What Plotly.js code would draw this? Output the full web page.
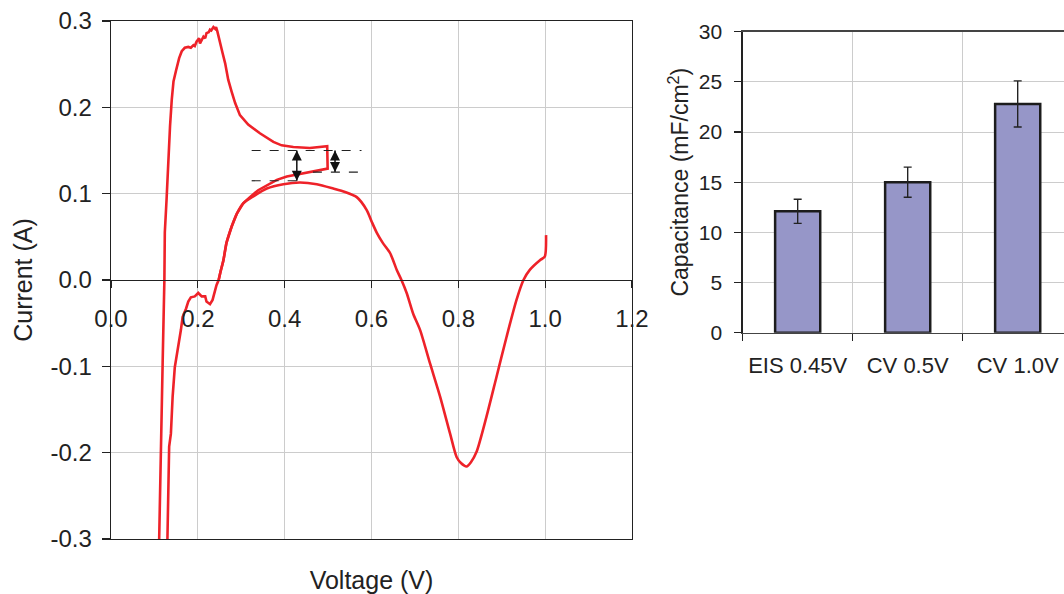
<!DOCTYPE html>
<html>
<head>
<meta charset="utf-8">
<script src="https://cdn.plot.ly/plotly-3.0.1.min.js"></script>
<style>html,body{margin:0;padding:0;background:#fff;}#chart{width:1064px;height:594px;}</style>
</head>
<body>
<div id="chart"></div>
<script>
// ---- CV scan reversed at 0.5 V (voltage V, current A)
const cv05Voltage = [0.111,0.115,0.119,0.123,0.124,0.128,0.132,0.136,0.140,0.144,0.150,0.157,0.163,0.170,0.178,0.184,0.190,0.193,0.197,0.203,0.205,0.213,0.217,0.220,0.225,0.228,0.231,0.236,0.240,0.242,0.245,0.251,0.257,0.263,0.270,0.278,0.286,0.297,0.316,0.343,0.374,0.393,0.420,0.458,0.498,0.499,0.470,0.447,0.428,0.405,0.382,0.359,0.339,0.320,0.305,0.290,0.278,0.266,0.259,0.252,0.248,0.243,0.240,0.237,0.234,0.228,0.220,0.217,0.209,0.201,0.193,0.184,0.178,0.173,0.165,0.161,0.155,0.151,0.147,0.142,0.138,0.134,0.132,0.130];
const cv05Current = [-0.300,-0.177,-0.096,0.000,0.055,0.093,0.139,0.178,0.209,0.230,0.243,0.257,0.265,0.269,0.270,0.269,0.272,0.271,0.276,0.280,0.274,0.282,0.280,0.286,0.287,0.290,0.289,0.293,0.291,0.293,0.288,0.274,0.263,0.251,0.232,0.218,0.205,0.191,0.180,0.170,0.160,0.156,0.154,0.153,0.155,0.129,0.126,0.124,0.122,0.120,0.116,0.110,0.104,0.096,0.089,0.077,0.062,0.043,0.023,0.009,0.000,-0.006,-0.012,-0.015,-0.023,-0.028,-0.025,-0.019,-0.019,-0.015,-0.019,-0.020,-0.025,-0.033,-0.043,-0.058,-0.077,-0.093,-0.101,-0.135,-0.178,-0.193,-0.240,-0.300];
// ---- CV scan to 1.0 V
const cv10Voltage = [0.248,0.252,0.259,0.266,0.278,0.290,0.305,0.328,0.359,0.397,0.435,0.474,0.512,0.539,0.566,0.589,0.601,0.612,0.626,0.643,0.658,0.669,0.681,0.696,0.712,0.735,0.758,0.781,0.796,0.806,0.819,0.829,0.842,0.865,0.888,0.911,0.934,0.950,0.965,0.988,0.999,1.002];
const cv10Current = [0.000,0.009,0.023,0.043,0.062,0.077,0.089,0.097,0.106,0.111,0.113,0.111,0.106,0.102,0.096,0.081,0.067,0.055,0.043,0.031,0.012,0.000,-0.015,-0.039,-0.058,-0.097,-0.135,-0.178,-0.205,-0.212,-0.216,-0.211,-0.199,-0.158,-0.112,-0.066,-0.023,0.000,0.012,0.023,0.027,0.052];

// ---- dashed guide levels and double arrows (data coords)
const guideY  = [0.150, 0.125, 0.115];
const guideX0 = [0.324, 0.465, 0.324];
const guideX1 = [0.577, 0.577, 0.430];
const arrowX    = [0.428, 0.516];
const arrowYTop = [0.150, 0.150];
const arrowYBot = [0.115, 0.125];

// ---- tick labels
const voltTickVals = [0,0.2,0.4,0.6,0.8,1.0,1.2];
const voltTickText = ['0.0','0.2','0.4','0.6','0.8','1.0','1.2'];
const currTickVals = [-0.3,-0.2,-0.1,0,0.1,0.2,0.3];
const currTickText = ['-0.3','-0.2','-0.1','0.0','0.1','0.2','0.3'];

// ---- capacitance bars
const capCategories = ['EIS 0.45V','CV 0.5V','CV 1.0V'];
const capValues = [12.1, 15.0, 22.8];
const capErrors = [1.2, 1.5, 2.3];

const FONT = 'Liberation Sans, Arial, Helvetica, sans-serif';
const RED = '#ee2229';
const GRID = '#cccccc';
const AX = '#222222';

const traces = [
  {x: cv05Voltage, y: cv05Current, type:'scatter', mode:'lines', xaxis:'x', yaxis:'y',
   line:{color:RED, width:2.6}, hoverinfo:'skip', showlegend:false},
  {x: cv10Voltage, y: cv10Current, type:'scatter', mode:'lines', xaxis:'x', yaxis:'y',
   line:{color:RED, width:2.6, shape:'spline', smoothing:0.7}, hoverinfo:'skip', showlegend:false},
  {x: [null], y: [null], type:'scatter', mode:'lines', xaxis:'x3', yaxis:'y', showlegend:false, hoverinfo:'skip'},
  {x: capCategories, y: capValues, type:'bar', xaxis:'x2', yaxis:'y2', width:0.41,
   marker:{color:'#9696c8', line:{color:'#1c1c1c', width:2.5}},
   error_y:{type:'data', array:capErrors, visible:true, color:'#222', thickness:1.4, width:4},
   showlegend:false, hoverinfo:'skip'}
];

// double-headed arrows: shaft + arrow-head markers at both ends
arrowX.forEach((xv,i)=>{
  traces.push({x:[xv,xv], y:[arrowYTop[i],arrowYBot[i]], type:'scatter', mode:'lines+markers', xaxis:'x', yaxis:'y',
    line:{color:'#111', width:1.5},
    marker:{symbol:['arrow-up','arrow-down'], size:10, color:'#111', line:{width:0}},
    hoverinfo:'skip', showlegend:false});
});

const shapes = guideY.map((yv,i)=>({type:'line', xref:'x', yref:'y', x0:guideX0[i], x1:guideX1[i], y0:yv, y1:yv,
  line:{color:'#222', width:1.2, dash:'dash'}}));

const tickFontL = {family:FONT, size:24, color:'#222'};
const tickFontR = {family:FONT, size:21, color:'#222'};

const layout = {
  width:1064, height:594, autosize:false,
  margin:{l:0, r:0, t:0, b:0, pad:0},
  paper_bgcolor:'#fff', plot_bgcolor:'rgba(0,0,0,0)',
  font:{family:FONT, color:'#222'},
  showlegend:false,
  xaxis:{domain:[0.1043,0.594], range:[0,1.2], anchor:'y', tickvals:voltTickVals, showticklabels:false, ticks:'',
    showgrid:true, gridcolor:GRID, gridwidth:1, zeroline:false, showline:true, linecolor:AX, linewidth:1.3, mirror:true,
    title:{text:'Voltage (V)', font:{family:FONT, size:25, color:'#222'}, standoff:32}},
  xaxis3:{overlaying:'x', anchor:'free', position:0.5286, range:[0,1.2], tickvals:voltTickVals, ticktext:voltTickText,
    ticks:'outside', ticklen:7, tickwidth:1.2, tickcolor:AX, showgrid:false, zeroline:false, showline:true, linecolor:AX, linewidth:1.3,
    tickfont:tickFontL, ticklabelstandoff:10},
  yaxis:{domain:[0.0926,0.9646], range:[-0.3,0.3], anchor:'x', tickvals:currTickVals, ticktext:currTickText,
    ticks:'outside', ticklen:8, tickwidth:1.2, tickcolor:AX, showgrid:true, gridcolor:GRID, zeroline:false,
    showline:true, linecolor:AX, linewidth:1.3, mirror:true, tickfont:tickFontL, ticklabelstandoff:5,
    title:{text:'Current (A)', font:{family:FONT, size:25, color:'#222'}, standoff:10}},
  xaxis2:{domain:[0.698,1.0], anchor:'y2', type:'category', range:[-0.5,2.421], tickson:'boundaries',
    ticks:'outside', ticklen:7, tickwidth:1.2, tickcolor:AX, showgrid:true, gridcolor:GRID,
    showline:true, linecolor:'#444', linewidth:1.5, mirror:true, tickfont:{family:FONT, size:22, color:'#222'}, ticklabelstandoff:12},
  yaxis2:{domain:[0.4399,0.9466], anchor:'x2', range:[0,30], dtick:5, tick0:0,
    ticks:'outside', ticklen:7, tickwidth:1.2, tickcolor:AX, showgrid:true, gridcolor:GRID, zeroline:false,
    showline:true, linecolor:AX, linewidth:1.3, tickfont:tickFontR, ticklabelstandoff:8,
    title:{text:'Capacitance (mF/cm<sup>2</sup>)', font:{family:FONT, size:23, color:'#222'}, standoff:3}},
  bargap:0.59,
  shapes:shapes
};

Plotly.newPlot('chart', traces, layout, {staticPlot:true, displayModeBar:false});
</script>
</body>
</html>
